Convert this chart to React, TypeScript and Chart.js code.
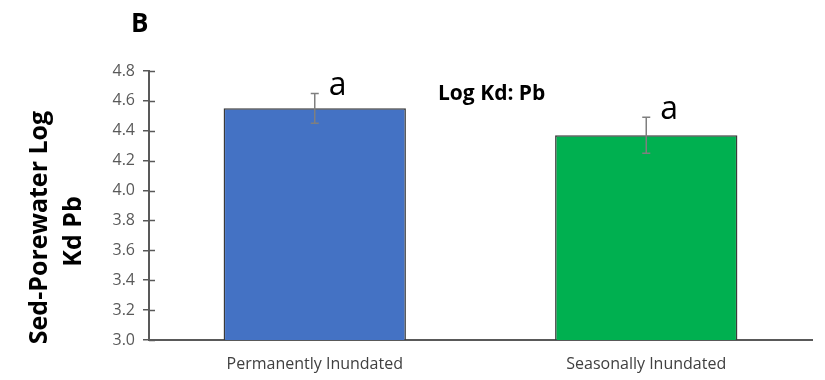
import React, { useEffect, useRef } from "react";
import { Chart, registerables } from "chart.js";

Chart.register(...registerables);

const categories = ["Permanently Inundated", "Seasonally Inundated"];
const values = [4.55, 4.37];
const errors = [0.1, 0.12];
const letters = ["a", "a"];
const barColors = ["#4472C4", "#00B050"];
const yTicks = [3.0, 3.2, 3.4, 3.6, 3.8, 4.0, 4.2, 4.4, 4.6, 4.8];
const panelLabel = "B";
const innerTitle = "Log Kd: Pb";
const yTitleLines = ["Sed-Porewater Log", "Kd Pb"];

const FONT = "'Open Sans', 'DejaVu Sans', sans-serif";

const annotate = {
  id: "annotate",
  afterDatasetsDraw(chart: any) {
    const ctx = chart.ctx;
    const y = chart.scales.y;
    const area = chart.chartArea;
    const meta = chart.getDatasetMeta(0);
    ctx.save();
    // inner half of the cross ticks
    ctx.strokeStyle = "#595959";
    ctx.lineWidth = 1.5;
    yTicks.forEach((t) => {
      const py = Math.round(y.getPixelForValue(t)) + 0.5;
      ctx.beginPath();
      ctx.moveTo(area.left, py);
      ctx.lineTo(area.left + 6, py);
      ctx.stroke();
    });
    // error bars
    ctx.strokeStyle = "#7F7F7F";
    ctx.lineWidth = 1.5;
    values.forEach((v, i) => {
      const bar = meta.data[i];
      const x = bar.x;
      const yt = y.getPixelForValue(v + errors[i]);
      const yb = y.getPixelForValue(v - errors[i]);
      ctx.beginPath();
      ctx.moveTo(x, yt);
      ctx.lineTo(x, yb);
      ctx.moveTo(x - 4, yt);
      ctx.lineTo(x + 4, yt);
      ctx.moveTo(x - 4, yb);
      ctx.lineTo(x + 4, yb);
      ctx.stroke();
      // letters
      ctx.fillStyle = "#000000";
      ctx.font = `32px ${FONT}`;
      ctx.textAlign = "left";
      ctx.textBaseline = "alphabetic";
      ctx.fillText(letters[i], x + 14, yt + 2);
    });
    // inner title
    ctx.fillStyle = "#000000";
    ctx.font = `bold 21px ${FONT}`;
    ctx.textAlign = "left";
    ctx.textBaseline = "alphabetic";
    ctx.fillText(innerTitle, area.left + 289, area.top + 29);
    // panel label
    ctx.font = `bold 26px ${FONT}`;
    ctx.fillText(panelLabel, area.left - 18, area.top - 39);
    // y axis title
    ctx.translate(0, (area.top + area.bottom) / 2);
    ctx.rotate(-Math.PI / 2);
    ctx.font = `bold 25px ${FONT}`;
    ctx.textAlign = "center";
    ctx.textBaseline = "middle";
    ctx.fillText(yTitleLines[0], -22, 40);
    ctx.fillText(yTitleLines[1], -26, 74);
    ctx.restore();
  },
};

export default function App() {
  const ref = useRef<HTMLCanvasElement>(null);
  useEffect(() => {
    document.body.style.margin = "0";
    const chart = new Chart(ref.current!, {
      type: "bar",
      data: {
        labels: categories,
        datasets: [
          {
            data: values,
            backgroundColor: barColors,
            borderColor: "#3A3A3A",
            borderWidth: 1.5,
            barPercentage: 0.55,
            categoryPercentage: 1,
          },
        ],
      },
      options: {
        animation: false,
        responsive: false,
        layout: { padding: { top: 71, right: 13, left: 0, bottom: 0 } },
        plugins: { legend: { display: false }, tooltip: { enabled: false } },
        scales: {
          x: {
            grid: { display: false, drawTicks: false },
            border: { display: true, color: "#595959", width: 2 },
            ticks: {
              padding: 15,
              color: "#404040",
              font: { family: FONT, size: 16 },
              maxRotation: 0,
            },
            afterFit: (s: any) => {
              s.height = 40;
            },
          },
          y: {
            min: 3.0,
            max: 4.8,
            afterBuildTicks: (s: any) => {
              s.ticks = yTicks.map((v) => ({ value: v }));
            },
            grid: {
              drawOnChartArea: false,
              drawTicks: true,
              tickLength: 6,
              color: "#595959",
              lineWidth: 1.5,
            },
            border: { display: true, color: "#595959", width: 2 },
            ticks: {
              padding: 8,
              color: "#595959",
              font: { family: FONT, size: 16 },
              callback: (v: any) => Number(v).toFixed(1),
            },
            afterFit: (s: any) => {
              s.width = 149;
            },
          },
        },
      },
      plugins: [annotate],
    });
    return () => chart.destroy();
  }, []);
  return <canvas ref={ref} width={825} height={380} style={{ display: "block" }} />;
}
